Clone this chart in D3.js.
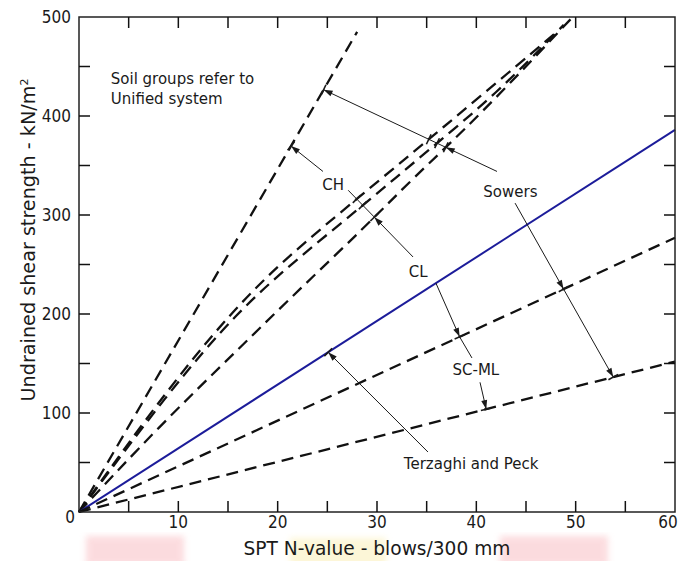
<!DOCTYPE html>
<html>
<head>
<meta charset="utf-8">
<script src="https://cdn.jsdelivr.net/npm/d3@7"></script>
<style>
  body { margin: 0; background: #fff; }
  svg text { fill: #1a1a1a; }
  .tick-label { font-family: "Liberation Sans Narrow", "DejaVu Sans Condensed", sans-serif; font-size: 17px; }
  .title { font-family: "DejaVu Sans", Verdana, sans-serif; font-size: 18.6px; }
  .note { font-family: "DejaVu Sans", Verdana, sans-serif; font-size: 15px; }
</style>
</head>
<body>
<svg id="chart" width="684" height="561"></svg>
<script>
// SPT N-value (blows/300 mm) vs undrained shear strength (kN/m2)
const lineCH   = [[0, 0], [28, 485]];
const curveA   = [[0, 0], [9, 126], [17.5, 228], [26, 300], [33.6, 363], [40.3, 419], [48, 484]];
const curveB   = [[0, 0], [9, 121], [16, 203], [22, 256], [29, 313], [35, 364], [42, 422], [48.8, 492]];
const curveC   = [[0, 0], [8, 86], [16.2, 166], [22.2, 225], [28.6, 286], [33.6, 337], [40.3, 400], [49.7, 500]];
const lineTP   = [[0, 0], [60, 386]];
const lineSCML = [[0, 0], [60, 277]];
const lineLow  = [[0, 0], [60, 152]];

const series = [
  { name: "lineCH", pts: lineCH, dashed: true },
  { name: "curveA", pts: curveA, dashed: true },
  { name: "curveB", pts: curveB, dashed: true },
  { name: "curveC", pts: curveC, dashed: true },
  { name: "lineTP", pts: lineTP, dashed: false },
  { name: "lineSCML", pts: lineSCML, dashed: true },
  { name: "lineLow", pts: lineLow, dashed: true }
];

const xMinor = [5, 10, 15, 20, 25, 30, 35, 40, 45, 50, 55];
const xLabels = [10, 20, 30, 40, 50, 60];
const yMinor = [50, 100, 150, 200, 250, 300, 350, 400, 450];
const yLabels = [100, 200, 300, 400, 500];

// notes: [text, N, cu]
const notes = [
  ["Soil groups refer to", 3.2, 432],
  ["Unified system", 3.2, 412],
  ["CH", 24.5, 325],
  ["CL", 33.2, 237],
  ["Sowers", 40.7, 318],
  ["SC-ML", 37.6, 138],
  ["Terzaghi and Peck", 32.7, 43]
];

// leaders: from / to are [N, cu] or [seriesName, N]
const leaders = [
  { from: [24.56, 344], to: ["lineCH", 21.35], arrows: ["lineCH"], bars: [] },
  { from: [42.08, 344], to: ["lineCH", 24.6], arrows: ["curveC", "lineCH"], bars: ["curveA", "curveB"] },
  { from: [43.9, 312], to: ["lineLow", 53.8], arrows: ["lineSCML", "lineLow"], bars: [] },
  { from: [33.63, 257.6], to: [27.1, 325], arrows: ["curveC"], bars: ["curveB", "curveA"] },
  { from: ["lineTP", 35.9], to: ["lineSCML", 38.36], arrows: ["lineSCML"], bars: [] },
  { from: [39.56, 155.6], to: ["lineSCML", 38.36], arrows: [], bars: [] },
  { from: [40.37, 131], to: ["lineLow", 41.0], arrows: ["lineLow"], bars: [] },
  { from: [35.13, 60.6], to: ["lineTP", 25.07], arrows: ["lineTP"], bars: [] }
];

const svg = d3.select("#chart");
const x = d3.scaleLinear().domain([0, 60]).range([79, 675]);
const y = d3.scaleLinear().domain([0, 500]).range([512, 17]);

// faint coloured smudges along the bottom edge of the scan
const defs = svg.append("defs");
defs.append("filter").attr("id", "soft").append("feGaussianBlur").attr("stdDeviation", 3);
const smudge = svg.append("g").attr("filter", "url(#soft)").attr("opacity", 0.5);
smudge.append("rect").attr("x", 86).attr("y", 536).attr("width", 98).attr("height", 30).attr("fill", "#f9b9bf");
smudge.append("rect").attr("x", 290).attr("y", 538).attr("width", 96).attr("height", 30).attr("fill", "#fbeeb0");
smudge.append("rect").attr("x", 500).attr("y", 536).attr("width", 108).attr("height", 30).attr("fill", "#f9b9bf");

// curves
const line = d3.line().x(d => x(d[0])).y(d => y(d[1])).curve(d3.curveBasis);
const dense = {};
series.forEach(s => {
  const p = svg.append("path")
    .attr("d", line(s.pts))
    .attr("fill", "none")
    .attr("stroke", s.dashed ? "#111" : "#1c1c9a")
    .attr("stroke-width", s.dashed ? 2.3 : 2)
    .attr("stroke-dasharray", s.dashed ? "12,7" : null);
  const node = p.node();
  const len = node.getTotalLength();
  const arr = [];
  for (let l = 0; l <= len; l += 1) {
    const q = node.getPointAtLength(l);
    arr.push([q.x, q.y]);
  }
  dense[s.name] = arr;
});

function onSeries(name, n) {
  const px = x(n);
  let best = dense[name][0];
  dense[name].forEach(q => { if (Math.abs(q[0] - px) < Math.abs(best[0] - px)) best = q; });
  return best;
}
function toPx(p) {
  return typeof p[0] === "string" ? onSeries(p[0], p[1]) : [x(p[0]), y(p[1])];
}
function hit(a, b, pts) {
  for (let i = 0; i < pts.length - 1; i++) {
    const p = pts[i], q = pts[i + 1];
    const d = (b[0] - a[0]) * (q[1] - p[1]) - (b[1] - a[1]) * (q[0] - p[0]);
    if (Math.abs(d) < 1e-9) continue;
    const t = ((p[0] - a[0]) * (q[1] - p[1]) - (p[1] - a[1]) * (q[0] - p[0])) / d;
    const u = ((p[0] - a[0]) * (b[1] - a[1]) - (p[1] - a[1]) * (b[0] - a[0])) / d;
    if (t >= -0.03 && t <= 1.03 && u >= 0 && u <= 1) return [a[0] + t * (b[0] - a[0]), a[1] + t * (b[1] - a[1])];
  }
  return null;
}

const ann = svg.append("g").attr("stroke", "#1a1a1a").attr("fill", "#1a1a1a");
leaders.forEach(ld => {
  const a = toPx(ld.from), b = toPx(ld.to);
  ann.append("line").attr("x1", a[0]).attr("y1", a[1]).attr("x2", b[0]).attr("y2", b[1]).attr("stroke-width", 1);
  const dx = b[0] - a[0], dy = b[1] - a[1], L = Math.hypot(dx, dy);
  const ux = dx / L, uy = dy / L, nx = -uy, ny = ux;
  const mark = (name, arrow) => {
    const h = hit(a, b, dense[name]);
    if (!h) return;
    ann.append("line")
      .attr("x1", h[0] + nx * 5.5).attr("y1", h[1] + ny * 5.5)
      .attr("x2", h[0] - nx * 5.5).attr("y2", h[1] - ny * 5.5)
      .attr("stroke-width", 1.6);
    if (arrow) {
      const bx = h[0] - ux * 9, by = h[1] - uy * 9;
      ann.append("path")
        .attr("d", `M${h[0]},${h[1]}L${bx + nx * 3},${by + ny * 3}L${bx - nx * 3},${by - ny * 3}Z`)
        .attr("stroke", "none");
    }
  };
  ld.bars.forEach(n => mark(n, false));
  ld.arrows.forEach(n => mark(n, true));
});

notes.forEach(n => {
  svg.append("text").attr("class", "note").attr("x", x(n[1])).attr("y", y(n[2])).text(n[0]);
});

// frame and ticks
svg.append("rect").attr("x", 79).attr("y", 17).attr("width", 596).attr("height", 495)
  .attr("fill", "none").attr("stroke", "#222").attr("stroke-width", 1.5);
const tk = svg.append("g");
const tick = (x1, y1, x2, y2) => tk.append("line")
  .attr("x1", x1).attr("y1", y1).attr("x2", x2).attr("y2", y2)
  .attr("stroke", "#111").attr("stroke-width", 1.5);
xMinor.forEach(v => {
  tick(x(v), 512, x(v), 501);
  tick(x(v), 17, x(v), 28);
});
yMinor.forEach(v => {
  tick(79, y(v), 90, y(v));
  tick(675, y(v), 664, y(v));
});
xLabels.forEach(v => {
  svg.append("text").attr("class", "tick-label")
    .attr("x", v === 60 ? x(v) - 7 : x(v)).attr("y", 528)
    .attr("text-anchor", "middle").text(v);
});
yLabels.forEach(v => {
  svg.append("text").attr("class", "tick-label")
    .attr("x", 71).attr("y", y(v)).attr("dy", "0.35em")
    .attr("text-anchor", "end").text(v);
});
svg.append("text").attr("class", "tick-label").attr("x", 70).attr("y", 523)
  .attr("text-anchor", "middle").text("0");

// axis titles
svg.append("text").attr("class", "title").attr("x", 377).attr("y", 555)
  .attr("text-anchor", "middle").text("SPT N-value - blows/300 mm");
const yt = svg.append("text").attr("class", "title").style("font-size", "19.2px")
  .attr("transform", "translate(35,240) rotate(-90)").attr("text-anchor", "middle");
yt.append("tspan").text("Undrained shear strength - kN/m");
yt.append("tspan").attr("dy", "-0.6em").attr("font-size", "11px").text("2");
</script>
</body>
</html>
